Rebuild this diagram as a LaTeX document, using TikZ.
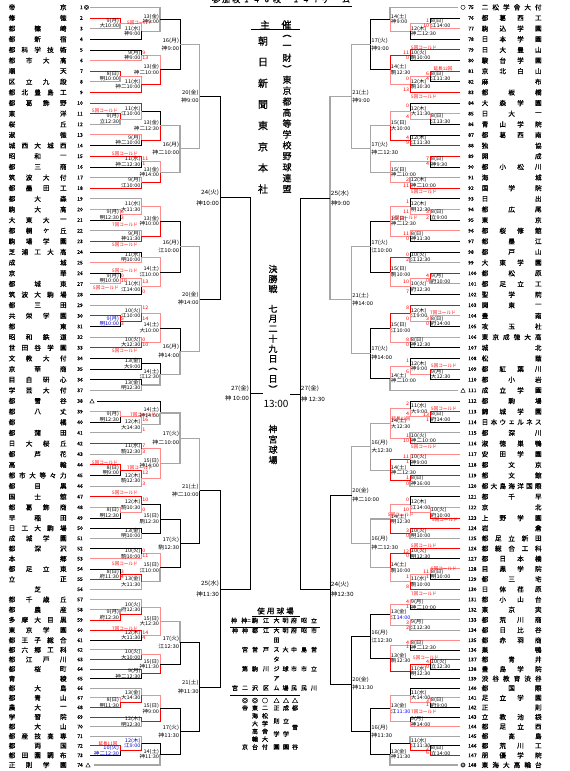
\documentclass[tikz,border=0pt]{standalone}
\usepackage{fontspec}
\usepackage{graphicx}
\setmainfont{Noto Sans CJK JP}
\newfontfamily\lblfont[FakeStretch=1.12]{Noto Sans CJK JP}
\newfontfamily\bfont[FakeBold=0.8]{Noto Sans CJK JP}
\usetikzlibrary{calc}
\tikzset{
  ck/.style={draw=black,line width=0.65pt},
  cr/.style={draw=red,line width=0.8pt},
  cp/.style={draw=red!45,line width=1pt},
  cg/.style={draw=black!35,line width=1.1pt},
  lbls/.style={font=\lblfont\fontsize{5}{5}\selectfont,inner sep=0pt},
  lblb/.style={lbls,text=blue!80!black},
  lblm/.style={font=\lblfont\fontsize{5.3}{5.3}\selectfont,inner sep=0pt},
  lbll/.style={font=\lblfont\fontsize{5.8}{5.8}\selectfont,inner sep=0pt},
  scr/.style={font=\lblfont\fontsize{4.8}{4.8}\selectfont,inner sep=0pt,text=red},
  cold/.style={font=\fontsize{4.6}{4.6}\selectfont,inner sep=0pt,text=red},
  tn/.style={font=\bfont\fontsize{6.6}{6.6}\selectfont,inner sep=0pt},
  num/.style={font=\bfont\fontsize{5}{5}\selectfont,inner sep=0pt},
  ttl/.style={font=\bfont\fontsize{10}{10}\selectfont,inner sep=0pt},
  ttlm/.style={font=\bfont\fontsize{9}{9}\selectfont,inner sep=0pt},
  ttls/.style={font=\bfont\fontsize{8}{8}\selectfont,inner sep=0pt},
  tbl/.style={font=\bfont\fontsize{6}{6}\selectfont,inner sep=0pt},
  tblt/.style={font=\bfont\fontsize{7.5}{7.5}\selectfont,inner sep=0pt},
}
\def\ofss{2.6}\def\ofsb{2.6}\def\ofsm{4}\def\ofsl{5}
\newcommand\HS[5]{%
  \foreach \ch [count=\k] in {#4} {\xdef\hscount{\k}}%
  \foreach \ch [count=\k] in {#4} {%
    \pgfmathsetmacro\tx{#1+(\k-1)*(#2-#1)/max(\hscount-1,1)+(\hscount==1)*(#2-#1)/2}%
    \node[#5] at (\tx,#3) {\ch};}%
}
\newcommand\VS[5]{%
  \foreach \ch [count=\k] in {#4} {\xdef\hscount{\k}}%
  \foreach \ch [count=\k] in {#4} {%
    \pgfmathsetmacro\ty{#2+(\k-1)*(#3-#2)/max(\hscount-1,1)+(\hscount==1)*(#3-#2)/2}%
    \node[#5] at (#1,\ty) {\ch};}%
}
\newcommand\yexpr[1]{((#1)<=49 ? 7.3+((#1)-1)*10.64 : ((#1)<=61 ? 518+((#1)-49)*10.19 : 640.3+((#1)-61)*9.59))}
\newcommand\TL[2]{\pgfmathsetmacro\yy{\yexpr{#1}}\HS{12}{63.3}{\yy}{#2}{tn}}
\newcommand\TR[2]{\pgfmathsetmacro\yy{\yexpr{#1-74}}\HS{485}{538.3}{\yy}{#2}{tn}}
% match: name, x, childA, childB, styleA, styleB, date, venue, labelsize
\newcommand\ML[9]{%
  \draw[#5] let \p1=(#3),\p2=(#4) in (\p1) -- (#2pt,\y1) -- (#2pt,{0.5*(\y1+\y2)});
  \draw[#6] let \p1=(#3),\p2=(#4) in (\p2) -- (#2pt,\y2) -- (#2pt,{0.5*(\y1+\y2)});
  \path let \p1=(#3),\p2=(#4) in
    coordinate (#1) at (#2pt,{0.5*(\y1+\y2)})
    coordinate (#1a) at (#2pt,\y1)
    coordinate (#1b) at (#2pt,\y2)
    node[lbl#9,anchor=east] at ({#2pt-0.7pt},{0.5*(\y1+\y2)+\csname ofs#9\endcsname pt}) {#7}
    node[lbl#9,anchor=east] at ({#2pt-0.7pt},{0.5*(\y1+\y2)-\csname ofs#9\endcsname pt}) {#8};
}
\newcommand\MR[9]{%
  \draw[#5] let \p1=(#3),\p2=(#4) in (\p1) -- (#2pt,\y1) -- (#2pt,{0.5*(\y1+\y2)});
  \draw[#6] let \p1=(#3),\p2=(#4) in (\p2) -- (#2pt,\y2) -- (#2pt,{0.5*(\y1+\y2)});
  \path let \p1=(#3),\p2=(#4) in
    coordinate (#1) at (#2pt,{0.5*(\y1+\y2)})
    coordinate (#1a) at (#2pt,\y1)
    coordinate (#1b) at (#2pt,\y2)
    node[lbl#9,anchor=west] at ({#2pt+0.7pt},{0.5*(\y1+\y2)+\csname ofs#9\endcsname pt}) {#7}
    node[lbl#9,anchor=west] at ({#2pt+0.7pt},{0.5*(\y1+\y2)-\csname ofs#9\endcsname pt}) {#8};
}
\newcommand\SCL[3]{\node[scr,anchor=west] at ($(#1a)+(0.6,2.7)$) {#2};\node[scr,anchor=west] at ($(#1b)+(0.6,-2.7)$) {#3};}
\newcommand\SCR[3]{\node[scr,anchor=east] at ($(#1a)+(-0.6,2.7)$) {#2};\node[scr,anchor=east] at ($(#1b)+(-0.6,-2.7)$) {#3};}
\begin{document}
\begin{tikzpicture}[x=1pt,y=-1pt]
\fill[white] (0,0) rectangle (570,771);
\useasboundingbox (0,0) rectangle (570,771);
% team coordinates and numbers
\foreach \i in {1,...,74}{%
  \pgfmathsetmacro\yy{\yexpr{\i}}%
  \pgfmathsetmacro\xl{\i==38 ? 97 : (\i==74 ? 93.5 : 90)}%
  \pgfmathtruncatemacro\j{\i+74}%
  \pgfmathsetmacro\xr{(\j==75)+(\j==111)+(\j==148) > 0 ? 458 : 460}%
  \coordinate (L\i) at (\xl,\yy);
  \coordinate (R\j) at (\xr,\yy);
  \node[num,anchor=east] at (83,\yy) {\i};
  \node[num,anchor=west] at (468,\yy) {\j};
}
\node[num] at (86.5,7.3) {◎};
\node[num] at (92,401) {△};
\node[num] at (88,765) {△};
\node[num] at (463,7.3) {○};
\node[num] at (463,390.3) {△};
\node[num] at (463,765) {◎};
% left team names
\TL{1}{帝,京}\TL{2}{修,徳}\TL{3}{都,篠,崎}\TL{4}{都,新,宿}\TL{5}{都,科,学,技,術}
\TL{6}{都,市,大,高}\TL{7}{順,天}\TL{8}{区,立,九,段}\TL{9}{都,北,豊,島,工}\TL{10}{都,葛,飾,野}
\TL{11}{東,洋}\TL{12}{桜,丘}\TL{13}{淑,徳}\TL{14}{城,西,大,城,西}\TL{15}{昭,和,一}
\TL{16}{都,三,商}\TL{17}{筑,波,大,付}\TL{18}{都,墨,田,工}\TL{19}{都,大,森}\TL{20}{駒,大,高}
\TL{21}{大,東,大,一}\TL{22}{都,桐,ヶ,丘}\TL{23}{駒,場,学,園}\TL{24}{芝,浦,工,大,高}\TL{25}{成,城}
\TL{26}{京,華}\TL{27}{都,城,東}\TL{28}{筑,波,大,駒,場}\TL{29}{都,三,田}\TL{30}{共,栄,学,園}
\TL{31}{都,東}\TL{32}{昭,和,鉄,道}\TL{33}{世,田,谷,学,園}\TL{34}{文,教,大,付}\TL{35}{京,華,商}
\TL{36}{目,白,研,心}\TL{37}{学,芸,大,付}\TL{38}{都,雪,谷}\TL{39}{都,八,丈}\TL{40}{都,橘}
\TL{41}{都,蒲,田}\TL{42}{日,大,桜,丘}\TL{43}{都,芦,花}\TL{44}{高,輪}\TL{45}{都,市,大,等,々,力}
\TL{46}{都,目,黒}\TL{47}{国,士,舘}\TL{48}{都,葛,飾,商}\TL{49}{早,稲,田}\TL{50}{日,工,大,駒,場}
\TL{51}{成,城,学,園}\TL{52}{都,深,沢}\TL{53}{本,郷}\TL{54}{都,足,立,東}\TL{55}{立,正}
\TL{56}{芝}\TL{57}{都,千,歳,丘}\TL{58}{都,農,産}\TL{59}{多,摩,大,目,黒}\TL{60}{東,京,学,園}
\TL{61}{都,王,子,総,合}\TL{62}{都,六,郷,工,科}\TL{63}{都,江,戸,川}\TL{64}{都,桜,町}\TL{65}{青,稜}
\TL{66}{都,大,島}\TL{67}{都,青,山}\TL{68}{農,大,一}\TL{69}{学,習,院}\TL{70}{都,大,山}
\TL{71}{都,産,技,高,専}\TL{72}{都,両,国}\TL{73}{都,田,園,調,布}\TL{74}{正,則,学,園}
% right team names
\TR{75}{二,松,学,舎,大,付}\TR{76}{都,葛,西,工}\TR{77}{駒,込,学,園}\TR{78}{日,本,学,園}\TR{79}{日,大,豊,山}
\TR{80}{駿,台,学,園}\TR{81}{京,北,白,山}\TR{82}{麻,布}\TR{83}{都,板,橋}\TR{84}{大,森,学,園}
\TR{85}{日,大,一}\TR{86}{青,山,学,院}\TR{87}{都,葛,西,南}\TR{88}{独,協}\TR{89}{開,成}
\TR{90}{都,小,松,川}\TR{91}{海,城}\TR{92}{国,学,院}\TR{93}{日,出}\TR{94}{都,広,尾}
\TR{95}{東,京}\TR{96}{都,桜,修,館}\TR{97}{都,墨,江}\TR{98}{都,戸,山}\TR{99}{大,東,学,園}
\TR{100}{都,松,原}\TR{101}{都,足,立,工}\TR{102}{聖,学,院}\TR{103}{関,東,一}\TR{104}{豊,南}
\TR{105}{攻,玉,社}\TR{106}{東,京,成,徳,大,高}\TR{107}{城,北}\TR{108}{松,蔭}\TR{109}{都,紅,葉,川}
\TR{110}{都,小,岩}\TR{111}{成,立,学,園}\TR{112}{都,駒,場}\TR{113}{錦,城,学,園}\TR{114}{日,本,ウ,ェ,ル,ネ,ス}
\TR{115}{都,深,川}\TR{116}{淑,徳,巣,鴨}\TR{117}{安,田,学,園}\TR{118}{都,文,京}\TR{119}{都,文,館}
\TR{120}{都,大,島,海,洋,国,際}\TR{121}{都,千,早}\TR{122}{京,北}\TR{123}{上,野,学,園}\TR{124}{岩,倉}
\TR{125}{都,足,立,新,田}\TR{126}{都,総,合,工,科}\TR{127}{都,日,本,橋}\TR{128}{目,黒,学,院}\TR{129}{都,三,宅}
\TR{130}{日,体,荏,原}\TR{131}{都,小,山,台}\TR{132}{東,京,実}\TR{133}{都,荒,川,商}\TR{134}{都,日,比,谷}
\TR{135}{都,赤,羽,商}\TR{136}{巣,鴨}\TR{137}{都,青,井}\TR{138}{豊,島,学,院}\TR{139}{渋,谷,教,育,渋,谷}
\TR{140}{都,国,際}\TR{141}{足,立,学,園}\TR{142}{正,則}\TR{143}{立,教,池,袋}\TR{144}{都,足,立,西}
\TR{145}{都,高,島}\TR{146}{都,荒,川,工}\TR{147}{朋,優,学,院}\TR{148}{東,海,大,高,輪,台}
% ---------------- left bracket
\ML{l1}{120}{L2}{L3}{cr}{cg}{9(月)}{大10:00}{s}
\ML{l2}{141.5}{l1}{L4}{cp}{ck}{11(水)}{神9:00}{s}
\ML{l3}{160}{L1}{l2}{cg}{cg}{13(金)}{神9:00}{s}
\ML{l4}{141.5}{L5}{L6}{ck}{cp}{9(月)}{神9:00}{s}
\ML{l5}{120}{L7}{L8}{cr}{cg}{8(日)}{明10:00}{s}
\ML{l6}{141.5}{l5}{L9}{cp}{cr}{11(水)}{神二10:00}{s}
\ML{l7}{160}{l4}{l6}{cp}{cr}{13(金)}{神二10:00}{s}
\ML{l8}{180}{l3}{l7}{ck}{ck}{16(月)}{神9:00}{m}
\ML{l9}{120}{L11}{L12}{cr}{cg}{9(月)}{立12:30}{s}
\ML{l10}{141.5}{L10}{l9}{cr}{cp}{11(水)}{江10:00}{s}
\ML{l11}{141.5}{L13}{L14}{cp}{ck}{9(月)}{神二10:00}{s}
\ML{l12}{160}{l10}{l11}{ck}{cr}{13(金)}{神二12:30}{s}
\ML{l13}{141.5}{L15}{L16}{cr}{ck}{11(水)}{神二12:30}{s}
\ML{l14}{141.5}{L17}{L18}{cg}{cr}{9(月)}{江10:00}{s}
\ML{l15}{160}{l13}{l14}{cp}{cr}{13(金)}{神14:00}{s}
\ML{l16}{180}{l12}{l15}{cg}{cg}{16(月)}{神二10:00}{m}
\ML{l17}{199.5}{l8}{l16}{cg}{cg}{20(金)}{神9:00}{m}
\ML{l18}{120}{L20}{L21}{cp}{ck}{9(月)}{明12:30}{s}
\ML{l19}{141.5}{L19}{l18}{cg}{cp}{11(水)}{大11:30}{s}
\ML{l20}{141.5}{L22}{L23}{cg}{cr}{9(月)}{神11:30}{s}
\ML{l21}{160}{l19}{l20}{cp}{cr}{13(金)}{神10:00}{s}
\ML{l22}{141.5}{L24}{L25}{ck}{cp}{11(水)}{明10:00}{s}
\ML{l23}{120}{L26}{L27}{ck}{cp}{9(月)}{明10:00}{s}
\ML{l24}{141.5}{l23}{L28}{cp}{ck}{11(水)}{江14:00}{s}
\ML{l25}{160}{l22}{l24}{cp}{cp}{14(土)}{江10:00}{s}
\ML{l26}{180}{l21}{l25}{ck}{ck}{16(月)}{江10:00}{m}
\ML{l27}{120}{L30}{L31}{cr}{ck}{9(月)}{明10:00}{b}
\ML{l28}{141.5}{L29}{l27}{cg}{cr}{10(火)}{江10:00}{s}
\ML{l29}{141.5}{L32}{L33}{cg}{cr}{10(火)}{大12:30}{s}
\ML{l30}{160}{l28}{l29}{cp}{cp}{14(土)}{大10:00}{s}
\ML{l31}{141.5}{L34}{L35}{ck}{ck}{13(金)}{大9:00}{s}
\ML{l32}{141.5}{L36}{L37}{ck}{cg}{13(金)}{明12:30}{s}
\ML{l33}{160}{l31}{l32}{ck}{cg}{14(土)}{江12:30}{s}
\ML{l34}{180}{l30}{l33}{ck}{cg}{16(月)}{神14:00}{m}
\ML{l35}{199.5}{l26}{l34}{cg}{cg}{20(金)}{神14:00}{m}
\ML{l36}{220}{l17}{l35}{ck}{ck}{24(火)}{神10:00}{l}
\ML{l37}{120}{L39}{L40}{cp}{ck}{9(月)}{明12:30}{s}
\ML{l38}{141.5}{l37}{L41}{cp}{cg}{12(木)}{大14:30}{s}
\ML{l39}{160}{L38}{l38}{ck}{cg}{14(土)}{神14:00}{s}
\ML{l40}{141.5}{L42}{L43}{cr}{cg}{11(水)}{駒12:30}{s}
\ML{l41}{120}{L44}{L45}{cr}{ck}{8(日)}{明9:00}{s}
\ML{l42}{141.5}{l41}{L46}{cr}{cg}{12(木)}{駒12:30}{s}
\ML{l43}{160}{l40}{l42}{cp}{cp}{15(日)}{神14:00}{s}
\ML{l44}{180}{l39}{l43}{cg}{cg}{17(火)}{神二10:00}{m}
\ML{l45}{120}{L48}{L49}{cp}{ck}{8(日)}{明12:30}{s}
\ML{l46}{141.5}{L47}{l45}{cr}{cp}{12(木)}{駒10:30}{s}
\ML{l47}{141.5}{L50}{L51}{ck}{cg}{13(金)}{明10:00}{s}
\ML{l48}{160}{l46}{l47}{ck}{ck}{15(日)}{駒12:30}{s}
\ML{l49}{141.5}{L52}{L53}{ck}{cp}{10(火)}{駒10:00}{s}
\ML{l50}{120}{L54}{L55}{ck}{cr}{8(日)}{府11:30}{s}
\ML{l51}{141.5}{l50}{L56}{cr}{cg}{13(金)}{大11:30}{s}
\ML{l52}{160}{l49}{l51}{cp}{cg}{15(日)}{江10:00}{s}
\ML{l53}{180}{l48}{l52}{ck}{ck}{17(火)}{駒12:30}{m}
\ML{l54}{199.5}{l44}{l53}{cg}{ck}{21(土)}{神二10:00}{m}
\ML{l55}{120}{L58}{L59}{cg}{cr}{9(月)}{府12:30}{s}
\ML{l56}{141.5}{L57}{l55}{cp}{cr}{10(火)}{府12:30}{s}
\ML{l57}{141.5}{L60}{L61}{cr}{ck}{12(木)}{大11:30}{s}
\ML{l58}{160}{l56}{l57}{cp}{cp}{15(日)}{大12:30}{s}
\ML{l59}{141.5}{L62}{L63}{cg}{cr}{10(火)}{大10:00}{s}
\ML{l60}{141.5}{L64}{L65}{cr}{ck}{9(月)}{神二12:30}{s}
\ML{l61}{160}{l59}{l60}{cp}{cr}{15(日)}{神11:30}{s}
\ML{l62}{180}{l58}{l61}{cg}{ck}{17(火)}{江12:30}{m}
\ML{l63}{120}{L67}{L68}{cp}{cr}{8(日)}{明11:30}{s}
\ML{l64}{141.5}{L66}{l63}{cg}{cr}{13(金)}{大14:30}{s}
\ML{l65}{141.5}{L69}{L70}{cr}{cg}{12(木)}{明12:30}{s}
\ML{l66}{160}{l64}{l65}{cp}{cr}{15(日)}{神9:00}{s}
\ML{l67}{120}{L72}{L73}{cr}{ck}{10(火)}{神二12:30}{b}
\ML{l68}{141.5}{L71}{l67}{cg}{cr}{12(木)}{江9:00}{b}
\ML{l69}{160}{l68}{L74}{ck}{cg}{14(土)}{神11:30}{s}
\ML{l70}{180}{l66}{l69}{ck}{ck}{17(火)}{神11:30}{m}
\ML{l71}{199.5}{l62}{l70}{ck}{ck}{21(土)}{神11:30}{m}
\ML{l72}{220}{l54}{l71}{ck}{ck}{25(水)}{神11:30}{l}
\ML{l73}{250}{l36}{l72}{ck}{ck}{27(金)}{神 10:00}{l}
\draw[ck] (l73) -- ++(13,0);
% ---------------- right bracket
\MR{r1}{430}{R76}{R77}{ck}{cp}{8(日)}{江14:00}{s}
\MR{r2}{410}{r1}{R78}{cp}{ck}{12(木)}{神二12:30}{s}
\MR{r3}{390}{R75}{r2}{cg}{cp}{14(土)}{神9:00}{s}
\MR{r4}{410}{R79}{R80}{cr}{ck}{10(火)}{駒10:00}{s}
\MR{r5}{430}{R81}{R82}{cr}{ck}{8(日)}{江11:30}{s}
\MR{r6}{410}{r5}{R83}{cp}{cr}{12(木)}{駒10:30}{s}
\MR{r7}{390}{r4}{r6}{cr}{cp}{14(土)}{駒12:30}{s}
\MR{r8}{370.5}{r3}{r7}{ck}{ck}{17(火)}{神9:00}{m}
\MR{r9}{430}{R85}{R86}{cp}{ck}{8(日)}{江13:30}{s}
\MR{r10}{410}{R84}{r9}{ck}{cp}{12(木)}{大11:30}{s}
\MR{r11}{410}{R87}{R88}{ck}{cr}{12(木)}{江11:30}{s}
\MR{r12}{390}{r10}{r11}{cp}{cr}{15(日)}{大10:00}{s}
\MR{r13}{430}{R89}{R90}{cr}{ck}{8(日)}{神9:30}{s}
\MR{r14}{410}{R91}{R92}{cg}{cr}{12(木)}{神二10:00}{s}
\MR{r15}{390}{r13}{r14}{cp}{cp}{15(日)}{神二10:00}{s}
\MR{r16}{370.5}{r12}{r15}{cg}{cg}{17(火)}{神二12:30}{m}
\MR{r17}{351.5}{r8}{r16}{cg}{cg}{21(土)}{神9:00}{m}
\MR{r18}{430}{R94}{R95}{cp}{ck}{8(日)}{立9:00}{s}
\MR{r19}{410}{R93}{r18}{ck}{cp}{12(木)}{明12:30}{s}
\MR{r20}{410}{R96}{R97}{cp}{ck}{8(日)}{神11:30}{s}
\MR{r21}{390}{r19}{r20}{cp}{cp}{15(日)}{神二12:30}{s}
\MR{r22}{410}{R98}{R99}{ck}{cg}{10(火)}{江12:30}{s}
\MR{r23}{430}{R100}{R101}{cr}{cg}{9(月)}{府10:00}{s}
\MR{r24}{410}{r23}{R102}{cp}{ck}{10(火)}{府12:30}{s}
\MR{r25}{390}{r22}{r24}{cr}{cp}{15(日)}{駒10:00}{s}
\MR{r26}{370.5}{r21}{r25}{ck}{ck}{17(火)}{江10:00}{m}
\MR{r27}{430}{R104}{R105}{cp}{ck}{8(日)}{府14:00}{s}
\MR{r28}{410}{R103}{r27}{cr}{cp}{12(木)}{江9:00}{s}
\MR{r29}{410}{R106}{R107}{cp}{ck}{8(日)}{神12:30}{s}
\MR{r30}{390}{r28}{r29}{cr}{cp}{15(日)}{江10:00}{s}
\MR{r31}{430}{R109}{R110}{cr}{ck}{9(月)}{大12:30}{s}
\MR{r32}{410}{R108}{r31}{ck}{cp}{12(木)}{神9:00}{s}
\MR{r33}{390}{r32}{R111}{cp}{cg}{14(土)}{神二10:00}{s}
\MR{r34}{370.5}{r30}{r33}{ck}{ck}{17(火)}{神14:00}{m}
\MR{r35}{351.5}{r26}{r34}{cg}{cg}{21(土)}{神14:00}{m}
\MR{r36}{330}{r17}{r35}{cg}{cg}{25(水)}{神9:00}{l}
\MR{r37}{430}{R113}{R114}{cr}{ck}{8(日)}{府14:00}{s}
\MR{r38}{410}{R112}{r37}{ck}{cp}{11(水)}{大9:00}{s}
\MR{r39}{410}{R115}{R116}{cg}{cr}{10(火)}{神二10:00}{s}
\MR{r40}{390}{r38}{r39}{cp}{cp}{14(土)}{大12:30}{s}
\MR{r41}{410}{R117}{R118}{cp}{ck}{10(火)}{神9:00}{s}
\MR{r42}{410}{R119}{R120}{cr}{cg}{8(日)}{神16:00}{s}
\MR{r43}{390}{r41}{r42}{cr}{cr}{14(土)}{神二12:30}{s}
\MR{r44}{370.5}{r40}{r43}{cg}{cg}{16(月)}{大12:30}{m}
\MR{r45}{430}{R122}{R123}{cp}{cr}{10(火)}{府10:00}{s}
\MR{r46}{410}{R121}{r45}{ck}{cp}{12(木)}{江14:00}{s}
\MR{r47}{410}{R124}{R125}{cr}{cg}{10(火)}{明10:00}{s}
\MR{r48}{390}{r46}{r47}{cp}{cr}{14(土)}{明12:30}{s}
\MR{r49}{410}{R126}{R127}{cr}{ck}{10(火)}{明12:30}{s}
\MR{r50}{430}{R128}{R129}{cp}{ck}{8(日)}{明10:00}{s}
\MR{r51}{410}{r50}{R130}{cp}{cr}{11(水)}{駒10:00}{s}
\MR{r52}{390}{r49}{r51}{cr}{cp}{14(土)}{駒10:00}{s}
\MR{r53}{370.5}{r48}{r52}{cg}{cg}{16(月)}{神二12:30}{m}
\MR{r54}{351.5}{r44}{r53}{cg}{cg}{20(金)}{神二10:00}{m}
\MR{r55}{410}{R131}{R132}{cp}{ck}{9(月)}{神二10:00}{s}
\MR{r56}{410}{R133}{R134}{cp}{cg}{9(月)}{江12:30}{s}
\MR{r57}{390}{r55}{r56}{cp}{cp}{13(金)}{江\textcolor{blue}{14:00}}{s}
\MR{r58}{410}{R135}{R136}{cp}{ck}{8(日)}{神二12:30}{s}
\MR{r59}{430}{R137}{R138}{cr}{ck}{10(火)}{立12:30}{s}
\MR{r60}{410}{r59}{R139}{cr}{ck}{11(水)}{明12:30}{s}
\MR{r61}{390}{r58}{r60}{cp}{cr}{13(金)}{駒12:30}{s}
\MR{r62}{370.5}{r57}{r61}{ck}{ck}{16(月)}{江12:30}{m}
\MR{r63}{430}{R141}{R142}{cp}{ck}{8(日)}{府9:00}{s}
\MR{r64}{410}{R140}{r63}{ck}{cp}{11(水)}{大14:00}{s}
\MR{r65}{410}{R143}{R144}{ck}{cp}{9(月)}{神14:00}{s}
\MR{r66}{390}{r64}{r65}{cp}{cp}{13(金)}{江\textcolor{blue}{11:30}}{s}
\MR{r67}{430}{R146}{R147}{ck}{cr}{8(日)}{立14:00}{s}
\MR{r68}{410}{R145}{r67}{cg}{cr}{11(水)}{江11:30}{s}
\MR{r69}{390}{r68}{R148}{ck}{cg}{13(金)}{神11:30}{s}
\MR{r70}{370.5}{r66}{r69}{ck}{ck}{16(月)}{神11:30}{m}
\MR{r71}{351.5}{r62}{r70}{ck}{ck}{20(金)}{神11:30}{m}
\MR{r72}{330}{r54}{r71}{ck}{ck}{24(火)}{神12:30}{l}
\MR{r73}{300}{r36}{r72}{ck}{ck}{27(金)}{神 12:30}{l}
\draw[ck] (r73) -- ++(-10,0);
% ---------------- scores
\SCL{l4}{9}{13}\SCL{l13}{11}{1}\SCL{l18}{6}{3}\SCL{l23}{0}{10}\SCL{l24}{13}{0}
\SCL{l27}{5}{3}\SCL{l28}{12}{14}\SCL{l29}{0}{10}\SCL{l38}{16}{1}\SCL{l40}{7}{3}
\SCL{l42}{12}{3}\SCL{l46}{10}{0}\SCL{l49}{0}{11}\SCL{l50}{3}{4}\SCL{l57}{14}{4}
\SCR{r1}{1}{10}\SCR{r4}{11}{0}\SCR{r5}{6}{4}\SCR{r6}{0}{13}\SCR{r10}{0}{4}
\SCR{r11}{4}{9}\SCR{r13}{7}{4}\SCR{r14}{2}{11}\SCR{r18}{3}{2}\SCR{r19}{1}{11}
\SCR{r20}{11}{0}\SCR{r22}{0}{2}\SCR{r23}{4}{0}\SCR{r24}{10}{7}\SCR{r27}{3}{0}
\SCR{r28}{8}{0}\SCR{r29}{8}{0}\SCR{r32}{1}{6}\SCR{r37}{13}{1}\SCR{r38}{2}{4}
\SCR{r39}{1}{10}\SCR{r41}{11}{1}\SCR{r42}{1}{0}\SCR{r46}{0}{10}\SCR{r47}{3}{0}
\SCR{r49}{12}{0}\SCR{r50}{11}{1}\SCR{r51}{1}{8}\SCR{r55}{4}{1}\SCR{r56}{3}{2}
\SCR{r58}{4}{1}\SCR{r59}{4}{0}\SCR{r63}{3}{1}\SCR{r67}{2}{6}
% ---------------- called-game notes
\node[cold] at (140,22.7) {5回コールド};
\node[cold] at (105,110.5) {5回コールド};
\node[cold] at (125,154) {5回コールド};
\node[cold] at (125,224.7) {7回コールド};
\node[cold] at (125,245.3) {5回コールド};
\node[cold] at (125,271) {5回コールド};
\node[cold] at (106,287.7) {5回コールド};
\node[cold] at (125,351) {5回コールド};
\node[cold] at (143,414.7) {7回コールド};
\node[cold] at (105,463) {5回コールド};
\node[cold] at (140,468) {7回コールド};
\node[cold] at (125,493.3) {5回コールド};
\node[cold] at (125,563.7) {5回コールド};
\node[cold] at (125,628.7) {7回コールド};
\node[cold] at (108,743.3) {延長11回};
\node[cold] at (424,47.7) {5回コールド};
\node[cold] at (443,69) {延長12回};
\node[cold] at (424,96.7) {5回コールド};
\node[cold] at (424,192) {5回コールド};
\node[cold] at (405,218) {5回コールド};
\node[cold] at (443,312.7) {7回コールド};
\node[cold] at (444,366) {5回コールド};
\node[cold] at (444,409) {5回コールド};
\node[cold] at (401,419) {延長12回};
\node[cold] at (424,446.7) {5回コールド};
\node[cold] at (401,515.3) {5回コールド};
\node[cold] at (445,520.3) {5回コールド};
\node[cold] at (424,546.3) {5回コールド};
\node[cold] at (444,569.3) {5回コールド};
\node[cold] at (424,593.7) {7回コールド};
\node[cold] at (426,658.3) {5回コールド};
\node[cold] at (424,711.7) {7回コールド};
% ---------------- centre texts
\HS{216}{277}{-0.5}{参,加,校,1,4,8,校}{ttls}
\HS{296}{346}{-0.5}{1,4,7,ゲ,ー,ム}{ttls}
\draw[line width=0.6pt] (210,6.7) -- (352,6.7);
\node[ttl] at (265,25) {主};
\node[ttl] at (286.5,25) {催};
\draw[line width=0.6pt] (251,29.5) -- (300,29.5);
\VS{263}{41}{189}{朝,日,新,聞,東,京,本,社}{ttl}
\VS{287}{36}{189}{︵,一,財,︶,東,京,都,高,等,学,校,野,球,連,盟}{ttlm}
\VS{273}{269}{289}{決,勝,戦}{ttlm}
\VS{273}{308.7}{389}{七,月,二,十,九,日,︵,日,︶}{ttlm}
\node[font=\fontsize{10}{10}\selectfont,inner sep=0pt] at (276,404) {13:00};
\VS{273}{429}{460}{神,宮,球,場}{ttlm}
% venue table
\HS{261}{290}{611}{使,用,球,場}{tblt}
\draw[line width=0.5pt] (252,616) -- (300,616);
\node[tbl] at (234,620.5) {神};
\node[tbl] at (246,620.5) {神\raisebox{1pt}{\fontsize{3.5}{3.5}\selectfont 二}};
\node[tbl] at (255,620.5) {駒};
\node[tbl] at (266,620.5) {江};
\node[tbl] at (276.5,620.5) {大};
\node[tbl] at (285.5,620.5) {明};
\node[tbl] at (294,620.5) {府};
\node[tbl] at (304,620.5) {昭};
\node[tbl] at (314,620.5) {立};
\draw[line width=0.5pt] (230,627) -- (320,627);
\VS{235}{630.5}{688}{神,宮}{tbl}
\VS{245}{630.5}{688}{神,宮,第,二}{tbl}
\VS{255}{630.5}{688}{都,営,駒,沢}{tbl}
\VS{266}{630.5}{688}{江,戸,川,区}{tbl}
\VS{276.5}{630.5}{688}{大,田,ス,タ,ジ,ア,ム}{tbl}
\VS{285.5}{630.5}{688}{明,大,球,場}{tbl}
\VS{294}{630.5}{688}{府,中,市,民}{tbl}
\VS{304}{630.5}{688}{昭,島,市,民}{tbl}
\VS{314}{630.5}{688}{市,営,立,川}{tbl}
\draw[line width=0.5pt] (230,695) -- (300,695);
\node[tbl] at (245,700.5) {◎};
\node[tbl] at (255,700.5) {◎};
\node[tbl] at (265,700.5) {○};
\node[tbl] at (276.5,700.5) {△};
\node[tbl] at (286,700.5) {△};
\node[tbl] at (295,700.5) {△};
\VS{245}{708}{747}{帝,京}{tbl}
\VS{255}{708}{747}{東,海,大,高,輪,台}{tbl}
\VS{265}{708}{747}{二,松,学,舎,大,付}{tbl}
\VS{276.5}{708}{747}{正,則,学,園}{tbl}
\VS{286}{708}{747}{成,立,学,園}{tbl}
\VS{295}{708}{747}{都,雪,谷}{tbl}
\end{tikzpicture}
\end{document}
